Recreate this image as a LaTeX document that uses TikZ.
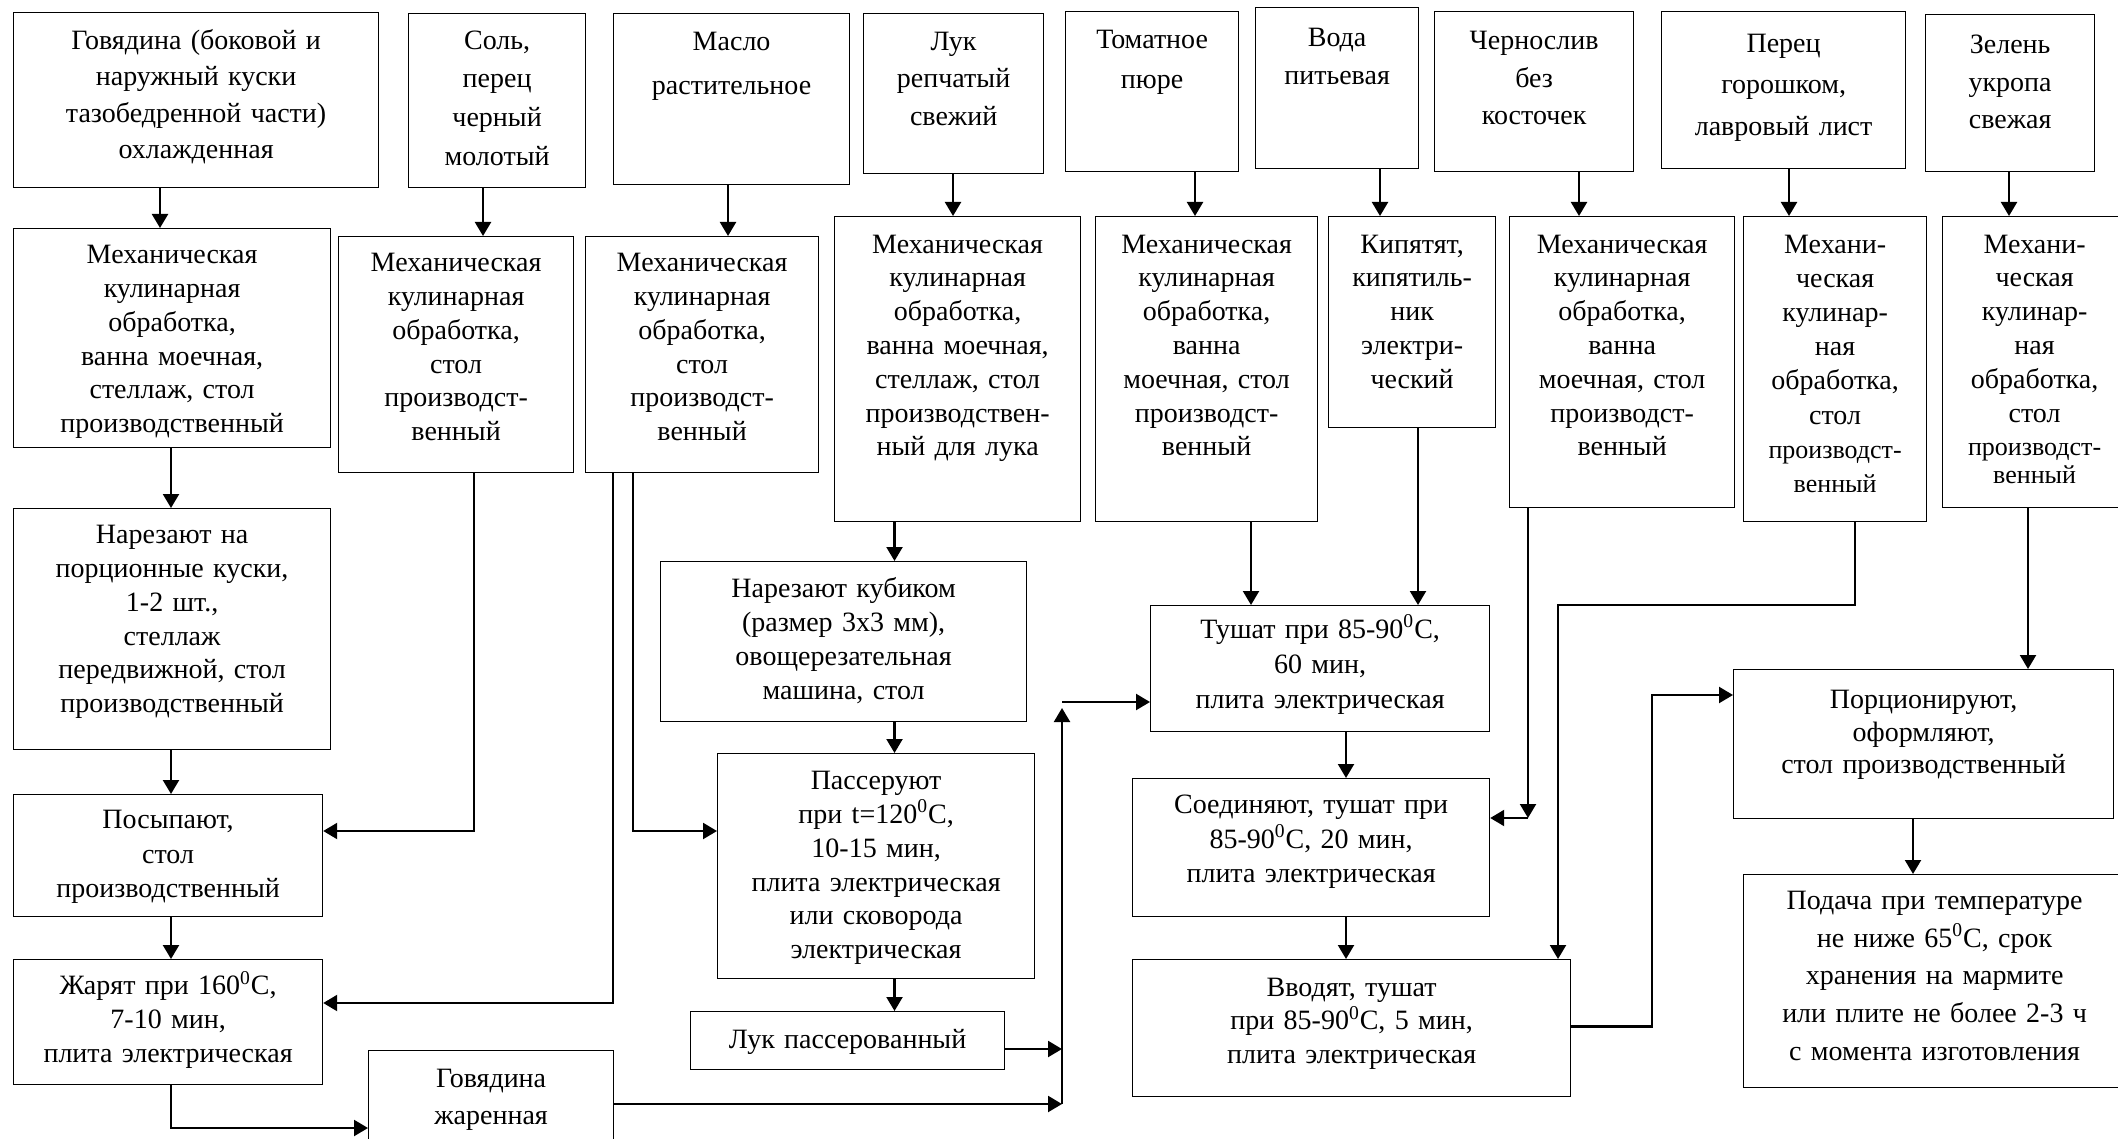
\documentclass[tikz,border=0pt]{standalone}
\usepackage{fontspec}
\setmainfont{Liberation Serif}
\usetikzlibrary{arrows.meta}
\tikzset{
  box/.style={draw, line width=0.6pt, inner sep=0pt, anchor=north west, align=center},
  arr/.style={line width=1.1pt, -{Triangle[length=7pt,width=8pt]}},
  ln/.style={line width=1.1pt}
}
\newcommand\mkbox[8]{%
  \pgfmathsetmacro\bxw{(#4-#2)*0.5}%
  \pgfmathsetmacro\bxh{(#6+8-#3)*0.5}%
  \pgfmathsetmacro\bxd{(#5-#6-8)*0.5}%
  \node[box, text width=\bxw pt, text height=\bxh pt, text depth=\bxd pt,
        font={\fontsize{14}{#7}\selectfont}] (#1) at (#2,#3) {#8};}
\newcommand\dg{\textsuperscript{0}}
\newcommand\smf{\fontsize{13}{14}\selectfont}
\begin{document}
\begin{tikzpicture}[x=0.5pt,y=-0.5pt]
\useasboundingbox (0,0) rectangle (2118,1139);
\clip (0,0) rectangle (2118,1139);
% top row
\mkbox{g0}{13}{12}{378}{187}{40.5}{18.3}{Говядина (боковой и\\наружный куски\\тазобедренной части)\\охлажденная}
\mkbox{s0}{408}{13}{585}{187}{40.5}{19.4}{Соль,\\перец\\черный\\молотый}
\mkbox{m0}{613}{13}{849}{184}{42}{22}{Масло\\растительное}
\mkbox{l0}{863}{13}{1043}{173}{42}{18.7}{Лук\\репчатый\\свежий}
\mkbox{t0}{1065}{11}{1238}{171}{40}{20}{Томатное\\пюре}
\mkbox{v0}{1255}{7}{1418}{168}{38}{19}{Вода\\питьевая}
\mkbox{c0}{1434}{11}{1633}{171}{41}{18.8}{Чернослив\\без\\косточек}
\mkbox{p0}{1661}{11}{1905}{168}{43.5}{20.8}{Перец\\горошком,\\лавровый лист}
\mkbox{z0}{1925}{14}{2094}{171}{45}{18.8}{Зелень\\укропа\\свежая}
% second row
\mkbox{g1}{13}{228}{330}{447}{255}{16.9}{Механическая\\кулинарная\\обработка,\\ванна моечная,\\стеллаж, стол\\производственный}
\mkbox{s1}{338}{236}{573}{472}{263}{16.9}{Механическая\\кулинарная\\обработка,\\стол\\производст-\\венный}
\mkbox{m1}{585}{236}{818}{472}{263}{16.9}{Механическая\\кулинарная\\обработка,\\стол\\производст-\\венный}
\mkbox{l1}{834}{216}{1080}{521}{244.5}{16.9}{Механическая\\кулинарная\\обработка,\\ванна моечная,\\стеллаж, стол\\производствен-\\ный для лука}
\mkbox{t1}{1095}{216}{1317}{521}{244.5}{16.9}{Механическая\\кулинарная\\обработка,\\ванна\\моечная, стол\\производст-\\венный}
\mkbox{k1}{1328}{216}{1495}{427}{244.5}{16.9}{Кипятят,\\кипятиль-\\ник\\электри-\\ческий}
\mkbox{c1}{1509}{216}{1734}{507}{244.5}{16.9}{Механическая\\кулинарная\\обработка,\\ванна\\моечная, стол\\производст-\\венный}
\mkbox{p1}{1743}{216}{1926}{521}{244.5}{17.1}{Механи-\\ческая\\кулинар-\\ная\\обработка,\\стол\\{\smf производст-}\\{\smf венный}}
\mkbox{z1}{1942}{216}{2126}{507}{244.5}{16.9}{Механи-\\ческая\\кулинар-\\ная\\обработка,\\стол\\{\smf производст-}\\[-3pt]{\smf венный}}
% left column
\mkbox{g2}{13}{508}{330}{749}{535}{16.9}{Нарезают на\\порционные куски,\\1-2 шт.,\\стеллаж\\передвижной, стол\\производственный}
\mkbox{g3}{13}{794}{322}{916}{820}{17.2}{Посыпают,\\стол\\производственный}
\mkbox{g4}{13}{959}{322}{1084}{986}{17}{Жарят при 160\dg C,\\7-10 мин,\\плита электрическая}
\mkbox{g5}{368}{1050}{613}{1170}{1079}{18.5}{Говядина\\жаренная}
% onion column
\mkbox{l2}{660}{561}{1026}{721}{589}{17}{Нарезают кубиком\\(размер 3х3 мм),\\овощерезательная\\машина, стол}
\mkbox{l3}{717}{753}{1034}{978}{781}{16.9}{Пассеруют\\при t=120\dg C,\\10-15 мин,\\плита электрическая\\или сковорода\\электрическая}
\mkbox{l4}{690}{1011}{1004}{1069}{1040}{17}{Лук пассерованный}
% right part
\mkbox{r1}{1150}{605}{1489}{731}{629.5}{17.5}{Тушат при 85-90\dg C,\\60 мин,\\плита электрическая}
\mkbox{r2}{1132}{778}{1489}{916}{805}{17.25}{Соединяют, тушат при\\85-90\dg C, 20 мин,\\плита электрическая}
\mkbox{r3}{1132}{959}{1570}{1096}{987.5}{16.9}{Вводят, тушат\\при 85-90\dg C, 5 мин,\\плита электрическая}
\mkbox{r4}{1733}{669}{2113}{818}{700}{16.2}{Порционируют,\\оформляют,\\стол производственный}
\mkbox{r5}{1743}{874}{2125}{1087}{901}{18.8}{Подача при температуре\\не ниже 65\dg C, срок\\хранения на мармите\\или плите не более 2-3 ч\\с момента изготовления}
% column / row coordinates
\coordinate (xa) at (160,0);
\coordinate (xb) at (171,0);
\coordinate (xc) at (483,0);
\coordinate (xd) at (474,0);
\coordinate (xe) at (728,0);
\coordinate (xf) at (613,0);
\coordinate (xg) at (633,0);
\coordinate (xh) at (953,0);
\coordinate (xi) at (894.5,0);
\coordinate (xj) at (1062,0);
\coordinate (xk) at (1195,0);
\coordinate (xl) at (1380,0);
\coordinate (xm) at (1579,0);
\coordinate (xn) at (1789,0);
\coordinate (xo) at (2009,0);
\coordinate (xp) at (1251,0);
\coordinate (xq) at (1418,0);
\coordinate (xr) at (1346,0);
\coordinate (xs) at (1528,0);
\coordinate (xt) at (1855,0);
\coordinate (xu) at (1558,0);
\coordinate (xv) at (1652,0);
\coordinate (xw) at (2028,0);
\coordinate (xx) at (1913,0);
\coordinate (ya) at (0,1128);
\coordinate (yb) at (0,831);
\coordinate (yc) at (0,1003);
\coordinate (yd) at (0,1049);
\coordinate (ye) at (0,1104);
\coordinate (yf) at (0,702);
\coordinate (yg) at (0,818);
\coordinate (yh) at (0,605);
\coordinate (yi) at (0,1026.5);
\coordinate (yj) at (0,695);
\coordinate (yk) at (0,708);
% connectors
\draw[arr] (g0.south -| xa) -- (g1.north -| xa);
\draw[arr] (g1.south -| xb) -- (g2.north -| xb);
\draw[arr] (g2.south -| xb) -- (g3.north -| xb);
\draw[arr] (g3.south -| xb) -- (g4.north -| xb);
\draw[arr] (g4.south -| xb) -- (xb |- ya) -- (g5.west |- ya);
\draw[arr] (s0.south -| xc) -- (s1.north -| xc);
\draw[arr] (s1.south -| xd) -- (xd |- yb) -- (g3.east |- yb);
\draw[arr] (m0.south -| xe) -- (m1.north -| xe);
\draw[arr] (m1.south -| xf) -- (xf |- yc) -- (g4.east |- yc);
\draw[arr] (m1.south -| xg) -- (xg |- yb) -- (l3.west |- yb);
\draw[arr] (l0.south -| xh) -- (l1.north -| xh);
\draw[arr] (l1.south -| xi) -- (l2.north -| xi);
\draw[arr] (l2.south -| xi) -- (l3.north -| xi);
\draw[arr] (l3.south -| xi) -- (l4.north -| xi);
\draw[arr] (l4.east |- yd) -- (xj |- yd);
\draw[arr] (g5.east |- ye) -- (xj |- ye);
\draw[arr] (xj |- ye) -- (xj |- yk);
\draw[arr] (xj |- yf) -- (r1.west |- yf);
\draw[arr] (t0.south -| xk) -- (t1.north -| xk);
\draw[arr] (v0.south -| xl) -- (k1.north -| xl);
\draw[arr] (c0.south -| xm) -- (c1.north -| xm);
\draw[arr] (p0.south -| xn) -- (p1.north -| xn);
\draw[arr] (z0.south -| xo) -- (z1.north -| xo);
\draw[arr] (t1.south -| xp) -- (r1.north -| xp);
\draw[arr] (k1.south -| xq) -- (r1.north -| xq);
\draw[arr] (r1.south -| xr) -- (r2.north -| xr);
\draw[arr] (r2.south -| xr) -- (r3.north -| xr);
\draw[arr] (c1.south -| xs) -- (xs |- yg);
\draw[arr] (xs |- yg) -- (r2.east |- yg);
\draw[arr] (p1.south -| xt) -- (xt |- yh) -- (xu |- yh) -- (r3.north -| xu);
\draw[arr] (r3.east |- yi) -- (xv |- yi) -- (xv |- yj) -- (r4.west |- yj);
\draw[arr] (z1.south -| xw) -- (r4.north -| xw);
\draw[arr] (r4.south -| xx) -- (r5.north -| xx);
\end{tikzpicture}
\end{document}
